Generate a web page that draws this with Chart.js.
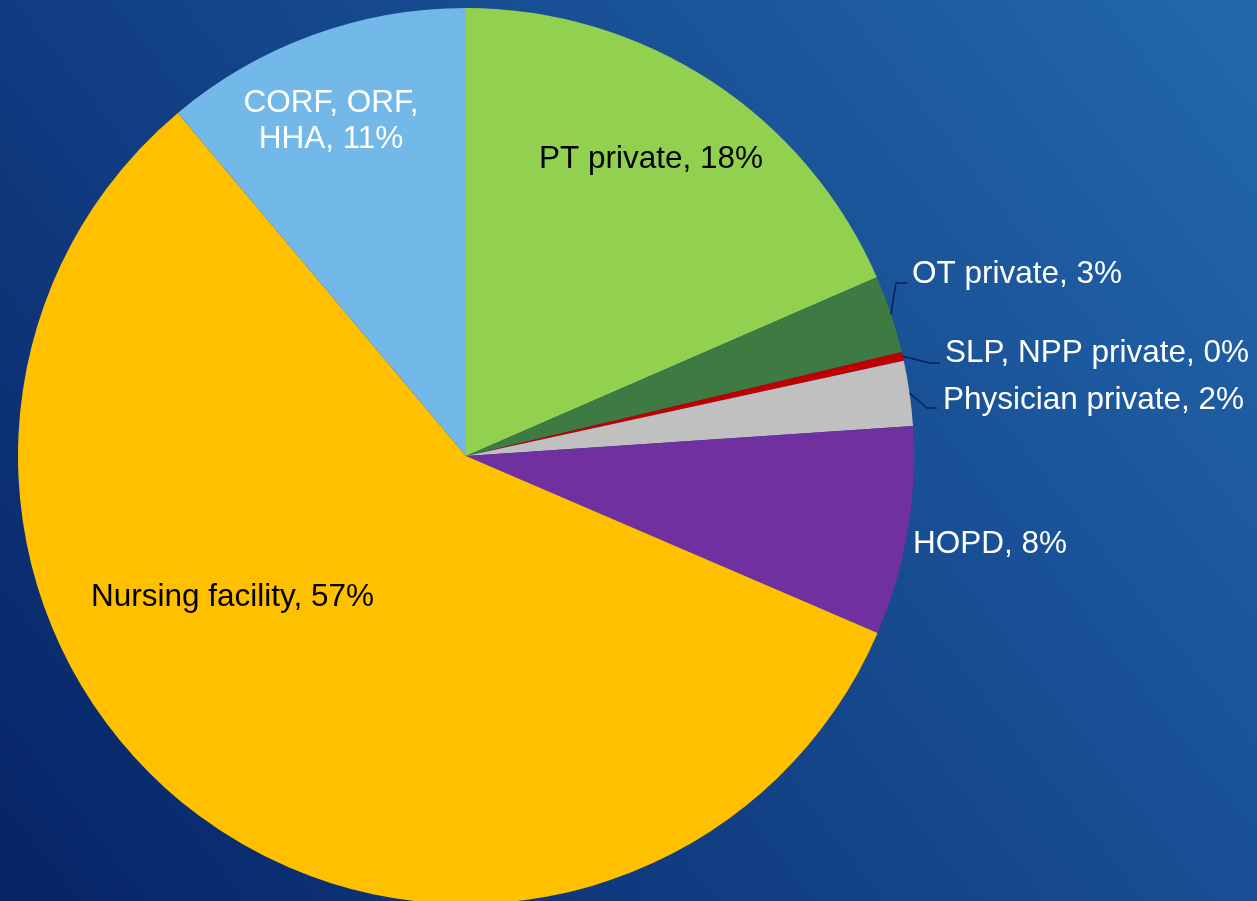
<!DOCTYPE html>
<html>
<head>
<meta charset="utf-8">
<script src="https://cdn.jsdelivr.net/npm/chart.js@4.4.1/dist/chart.umd.min.js"></script>
<style>
  html, body { margin: 0; padding: 0; width: 1257px; height: 901px; overflow: hidden;
    background: linear-gradient(52deg, #062466 0%, #123f84 40%, #2368ad 100%); }
  #wrap { position: absolute; left: 0; top: 0; width: 1257px; height: 905px; }
</style>
</head>
<body>
<div id="wrap"><canvas id="c" width="1257" height="905"></canvas></div>
<script>
// ---- data ----
const categories = ["PT private", "OT private", "SLP, NPP private", "Physician private", "HOPD", "Nursing facility", "CORF, ORF, HHA"];
const shares = [18.47, 2.80, 0.32, 2.34, 7.53, 57.42, 11.12];
const sliceColors = ["#92d050", "#3d7b43", "#c00000", "#c0c0c0", "#7030a0", "#ffc000", "#72b9e9"];
const labelColors = ["#000000", "#ffffff", "#ffffff", "#ffffff", "#ffffff", "#000000", "#ffffff"];

// ---- label layout (in units of pie radius, relative to pie centre) ----
const labelLayout = [
  { align: "center", x: 0.4129, y: -0.6685 },
  { align: "left", x: 0.9955, y: -0.4118, elbow: [0.9598, -0.3862], end: [0.9844, -0.3862] },
  { align: "left", x: 1.0692, y: -0.2344, elbow: [1.0357, -0.2076], end: [1.0580, -0.2076] },
  { align: "left", x: 1.0647, y: -0.1306, elbow: [1.0290, -0.1071], end: [1.0513, -0.1071] },
  { align: "left", x: 0.9978, y: 0.1908 },
  { align: "center", x: -0.5212, y: 0.3092 },
  { align: "center", x: -0.3013, y: -0.7533, wrap: 195 }
];

const FONT_SIZE = 31.5;
const FONT = FONT_SIZE + 'px "Liberation Sans", Arial, sans-serif';
const LINE_H = 36;

const labelPlugin = {
  id: "pieLabels",
  afterDatasetsDraw(chart) {
    const ctx = chart.ctx;
    const meta = chart.getDatasetMeta(0);
    const data = chart.data.datasets[0].data;
    const total = data.reduce((a, b) => a + b, 0);
    ctx.save();
    ctx.font = FONT;
    ctx.textBaseline = "alphabetic";
    meta.data.forEach((arc, i) => {
      const p = arc.getProps(["x", "y", "startAngle", "endAngle", "outerRadius"], true);
      const r = p.outerRadius;
      const L = labelLayout[i];
      const text = chart.data.labels[i] + ", " + Math.round(data[i] / total * 100) + "%";
      // leader line
      if (L.elbow) {
        const mid = (p.startAngle + p.endAngle) / 2;
        ctx.beginPath();
        ctx.strokeStyle = "#0b1f5e";
        ctx.lineWidth = 1.6;
        ctx.moveTo(p.x + Math.cos(mid) * r, p.y + Math.sin(mid) * r);
        ctx.lineTo(p.x + L.elbow[0] * r, p.y + L.elbow[1] * r);
        ctx.lineTo(p.x + L.end[0] * r, p.y + L.end[1] * r);
        ctx.stroke();
      }
      // wrap
      let lines = [text];
      if (L.wrap) {
        lines = [];
        let cur = "";
        text.split(" ").forEach(w => {
          const t = cur ? cur + " " + w : w;
          if (ctx.measureText(t).width > L.wrap && cur) { lines.push(cur); cur = w; }
          else cur = t;
        });
        if (cur) lines.push(cur);
      }
      ctx.fillStyle = labelColors[i];
      ctx.textAlign = L.align;
      const cx = p.x + L.x * r;
      const cy = p.y + L.y * r;
      const capHalf = 0.358 * FONT_SIZE;
      const top = cy - (lines.length - 1) * LINE_H / 2;
      lines.forEach((ln, k) => {
        ctx.fillText(ln, cx, top + k * LINE_H + capHalf);
      });
    });
    ctx.restore();
  }
};

new Chart(document.getElementById("c"), {
  type: "pie",
  data: {
    labels: categories,
    datasets: [{ data: shares, backgroundColor: sliceColors, borderWidth: 0 }]
  },
  options: {
    responsive: false,
    animation: false,
    layout: { padding: { left: 18, right: 343, top: 8, bottom: 1 } },
    plugins: { legend: { display: false }, tooltip: { enabled: false } }
  },
  plugins: [labelPlugin]
});
</script>
</body>
</html>
